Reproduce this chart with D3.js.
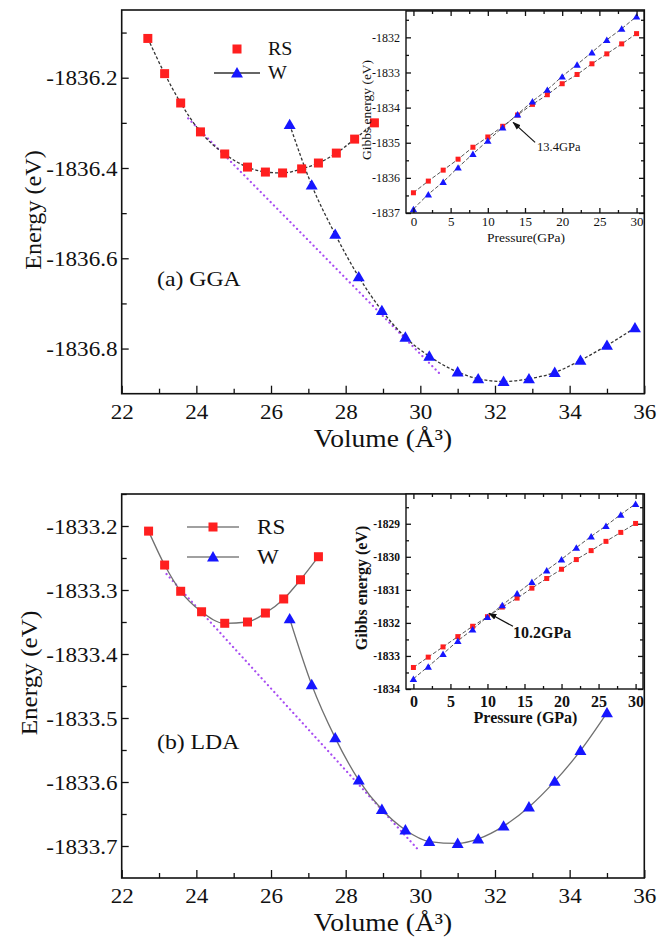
<!DOCTYPE html>
<html>
<head>
<meta charset="utf-8">
<script src="https://cdn.jsdelivr.net/npm/d3@7"></script>
<style>
  html, body { margin: 0; padding: 0; background: #fff; }
  svg { display: block; }
  svg text { font-family: "Liberation Serif", "Times New Roman", serif; }
</style>
</head>
<body>
<svg id="chart" width="667" height="945"></svg>
<script>
// ---------- data ----------
const volumeTicks = [22, 24, 26, 28, 30, 32, 34, 36];
const volumeMinorTicks = [23, 25, 27, 29, 31, 33, 35];

// (a) GGA: total energy vs volume
const ggaRsVolume = [22.70, 23.15, 23.58, 24.11, 24.76, 25.37, 25.85, 26.31, 26.82, 27.27, 27.75, 28.24, 28.77];
const ggaRsEnergy = [-1836.113, -1836.191, -1836.256, -1836.320, -1836.369, -1836.398, -1836.409, -1836.411, -1836.402, -1836.389, -1836.367, -1836.336, -1836.300];
const ggaWVolume = [26.50, 27.09, 27.72, 28.35, 28.97, 29.60, 30.24, 31.00, 31.55, 32.23, 32.91, 33.60, 34.29, 35.00, 35.75];
const ggaWEnergy = [-1836.304, -1836.438, -1836.547, -1836.641, -1836.716, -1836.775, -1836.817, -1836.852, -1836.867, -1836.873, -1836.867, -1836.853, -1836.826, -1836.793, -1836.754];
const ggaTangentVolume = [23.78, 30.50];
const ggaTangentEnergy = [-1836.290, -1836.854];
const ggaEnergyTicks = [-1836.8, -1836.6, -1836.4, -1836.2];
const ggaEnergyMinorTicks = [-1836.7, -1836.5, -1836.3, -1836.1];

// (b) LDA: total energy vs volume
const ldaRsVolume = [22.72, 23.15, 23.58, 24.14, 24.76, 25.37, 25.85, 26.34, 26.79, 27.27];
const ldaRsEnergy = [-1833.208, -1833.261, -1833.302, -1833.334, -1833.352, -1833.350, -1833.336, -1833.314, -1833.284, -1833.248];
const ldaWVolume = [26.50, 27.09, 27.72, 28.35, 28.97, 29.60, 30.24, 31.00, 31.55, 32.23, 32.91, 33.60, 34.29, 35.00];
const ldaWEnergy = [-1833.345, -1833.448, -1833.531, -1833.597, -1833.643, -1833.675, -1833.693, -1833.696, -1833.689, -1833.669, -1833.639, -1833.599, -1833.551, -1833.492];
const ldaTangentVolume = [23.20, 29.93];
const ldaTangentEnergy = [-1833.275, -1833.705];
const ldaEnergyTicks = [-1833.7, -1833.6, -1833.5, -1833.4, -1833.3, -1833.2];
const ldaEnergyMinorTicks = [-1833.65, -1833.55, -1833.45, -1833.35, -1833.25, -1833.15];

// Gibbs energy vs pressure (insets)
const pressure = [0, 2, 4, 6, 8, 10, 12, 14, 16, 18, 20, 22, 24, 26, 28, 30];
const pressureTicks = [0, 5, 10, 15, 20, 25, 30];
const pressureMinorTicks = [2.5, 7.5, 12.5, 17.5, 22.5, 27.5];

const ggaRsGibbs = [-1836.424, -1836.092, -1835.780, -1835.468, -1835.128, -1834.836, -1834.532, -1834.211, -1833.908, -1833.633, -1833.320, -1833.057, -1832.753, -1832.470, -1832.186, -1831.894];
const ggaWGibbs = [-1836.887, -1836.470, -1836.112, -1835.704, -1835.318, -1834.938, -1834.560, -1834.190, -1833.823, -1833.490, -1833.113, -1832.773, -1832.424, -1832.072, -1831.752, -1831.403];
const ggaGibbsTicks = [-1837, -1836, -1835, -1834, -1833, -1832];
const ggaGibbsMinorTicks = [-1836.5, -1835.5, -1834.5, -1833.5, -1832.5, -1831.5];
const ggaTransition = { pressure: 13.4, gibbs: -1834.42, label: "13.4GPa" };

const ldaRsGibbs = [-1833.349, -1833.036, -1832.726, -1832.415, -1832.102, -1831.813, -1831.521, -1831.250, -1830.949, -1830.657, -1830.377, -1830.084, -1829.813, -1829.533, -1829.262, -1828.991];
const ldaWGibbs = [-1833.690, -1833.319, -1832.937, -1832.545, -1832.193, -1831.820, -1831.461, -1831.108, -1830.759, -1830.407, -1830.075, -1829.723, -1829.383, -1829.060, -1828.720, -1828.398];
const ldaGibbsTicks = [-1834, -1833, -1832, -1831, -1830, -1829];
const ldaGibbsMinorTicks = [-1833.5, -1832.5, -1831.5, -1830.5, -1829.5, -1828.5];
const ldaTransition = { pressure: 10.2, gibbs: -1831.71, label: "10.2GPa" };

// ---------- drawing ----------
const RED = "#ff1f1f", BLUE = "#1616ff", INK = "#111", TANGENT = "#a84cf2";
const svg = d3.select("#chart");

svg.append("defs").append("marker")
  .attr("id", "arrowhead").attr("viewBox", "0 0 10 10")
  .attr("refX", 9).attr("refY", 5)
  .attr("markerWidth", 7).attr("markerHeight", 7)
  .attr("orient", "auto-start-reverse")
  .append("path").attr("d", "M0,1.5 L10,5 L0,8.5 Z").attr("fill", INK);

// text drawn slightly widened, as in the typeset figure
function label(g, x, y, str, size, opts = {}) {
  const rot = opts.rotate ? " rotate(-90)" : "";
  const sx = opts.widen || 1;
  return g.append("text")
    .attr("transform", `translate(${x},${y})${rot} scale(${sx},1)`)
    .attr("text-anchor", opts.anchor || "start")
    .attr("font-size", size).attr("font-weight", opts.weight || "normal")
    .attr("fill", INK).text(str);
}

function squares(g, x, y, xs, ys, size) {
  g.selectAll(null).data(d3.zip(xs, ys)).join("rect")
    .attr("x", d => x(d[0]) - size / 2).attr("y", d => y(d[1]) - size / 2)
    .attr("width", size).attr("height", size).attr("fill", RED);
}
function triangles(g, x, y, xs, ys, area) {
  const sym = d3.symbol(d3.symbolTriangle, area);
  g.selectAll(null).data(d3.zip(xs, ys)).join("path")
    .attr("transform", d => `translate(${x(d[0])},${y(d[1]) + 1})`)
    .attr("d", sym).attr("fill", BLUE);
}
function curve(g, x, y, xs, ys, style) {
  g.append("path").datum(d3.zip(xs, ys))
    .attr("d", d3.line().x(d => x(d[0])).y(d => y(d[1])).curve(d3.curveMonotoneX))
    .attr("fill", "none").attr("stroke", style.color).attr("stroke-width", style.width)
    .attr("stroke-dasharray", style.dash || null)
    .attr("stroke-linecap", style.cap || "butt");
}
function axisGroup(g, axis, tx, ty, font) {
  const a = g.append("g").attr("transform", `translate(${tx},${ty})`).call(axis);
  a.attr("font-family", null).attr("font-size", null);
  a.select(".domain").remove();
  a.selectAll("line").attr("stroke", INK).attr("stroke-width", 1.3);
  a.selectAll("text").attr("fill", INK)
    .attr("font-size", font.size).attr("font-weight", font.weight || "normal");
  if (font.widen) a.selectAll("text").attr("transform", `scale(${font.widen},1)`);
  return a;
}

function drawMain(p) {
  const x = d3.scaleLinear().domain([22, 36]).range([p.left, p.right]);
  const y = d3.scaleLinear().domain(p.yDomain).range([p.bottom, p.top]);
  const g = svg.append("g");

  curve(g, x, y, p.tangentV, p.tangentE, { color: TANGENT, width: 2.2, dash: "0.1,4.6", cap: "round" });
  curve(g, x, y, p.rsV, p.rsE, p.lineStyle);
  curve(g, x, y, p.wV, p.wE, p.lineStyle);
  squares(g, x, y, p.rsV, p.rsE, 9);
  triangles(g, x, y, p.wV, p.wE, 62);

  const tickFont = { size: 22, widen: 1.05 };
  axisGroup(g, d3.axisBottom(x).tickValues(volumeTicks).tickSize(-8).tickPadding(9.5).tickFormat(d3.format("d")), 0, p.bottom, tickFont);
  axisGroup(g, d3.axisBottom(x).tickValues(volumeMinorTicks).tickSize(-5).tickFormat(""), 0, p.bottom, {});
  axisGroup(g, d3.axisLeft(y).tickValues(p.yTicks).tickSize(-7).tickPadding(4).tickFormat(d => d.toFixed(1)), p.left, 0, tickFont);
  axisGroup(g, d3.axisLeft(y).tickValues(p.yMinor).tickSize(-5).tickFormat(""), p.left, 0, {});

  g.append("rect").attr("x", p.left).attr("y", p.top)
    .attr("width", p.right - p.left).attr("height", p.bottom - p.top)
    .attr("fill", "none").attr("stroke", INK).attr("stroke-width", 1.6);

  label(g, (p.left + p.right) / 2, p.bottom + 53, "Volume (Å³)", 25, { anchor: "middle", widen: 1.1 });
  label(g, p.yTitleX, p.yTitleY, "Energy (eV)", p.yTitleSize, { anchor: "middle", rotate: true, widen: 1.05 });
  label(g, 157, p.panelLabelY, p.panelLabel, 22, { widen: 1.08 });

  // legend
  const L = p.legend;
  const lg = g.append("g").attr("transform", `translate(${L.x},${L.y})`);
  L.entries.forEach((e, i) => {
    const row = lg.append("g").attr("transform", `translate(0,${i * L.gap})`);
    if (e.line) row.append("line").attr("x1", -L.half).attr("x2", L.half)
      .attr("stroke", L.lineColor).attr("stroke-width", 1.3);
    if (e.kind === "rs") row.append("rect").attr("x", -4.5).attr("y", -4.5).attr("width", 9).attr("height", 9).attr("fill", RED);
    else row.append("path").attr("transform", "translate(0,1)").attr("d", d3.symbol(d3.symbolTriangle, 62)).attr("fill", BLUE);
    label(row, L.textDx, L.fontSize * 0.34, e.label, L.fontSize, { widen: 1.05 });
  });
  return g;
}

function drawInset(p) {
  const x = d3.scaleLinear().domain([-1, 31]).range([p.left, p.right]);
  const y = d3.scaleLinear().domain(p.yDomain).range([p.bottom, p.top]);
  const g = svg.append("g");
  g.append("rect").attr("x", p.left).attr("y", p.top)
    .attr("width", p.right - p.left).attr("height", p.bottom - p.top).attr("fill", "#fff");

  const dash = { color: "#555", width: 1, dash: "4,2" };
  curve(g, x, y, pressure, p.rs, dash);
  curve(g, x, y, pressure, p.w, dash);
  squares(g, x, y, pressure, p.rs, 5);
  triangles(g, x, y, pressure, p.w, 24);

  const f = p.font;
  axisGroup(g, d3.axisBottom(x).tickValues(pressureTicks).tickSize(-5).tickPadding(p.xPad).tickFormat(d3.format("d")), 0, p.bottom, { size: f.x, weight: f.weight });
  axisGroup(g, d3.axisBottom(x).tickValues(pressureMinorTicks).tickSize(-3).tickFormat(""), 0, p.bottom, {});
  axisGroup(g, d3.axisTop(x).tickValues(pressureTicks).tickSize(-5).tickFormat(""), 0, p.top, {});
  axisGroup(g, d3.axisTop(x).tickValues(pressureMinorTicks).tickSize(-3).tickFormat(""), 0, p.top, {});
  axisGroup(g, d3.axisLeft(y).tickValues(p.yTicks).tickSize(-5).tickPadding(6).tickFormat(d => d.toFixed(0)), p.left, 0, { size: f.y, weight: f.weight });
  axisGroup(g, d3.axisLeft(y).tickValues(p.yMinor).tickSize(-3).tickFormat(""), p.left, 0, {});
  axisGroup(g, d3.axisRight(y).tickValues(p.yTicks).tickSize(-5).tickFormat(""), p.right, 0, {});
  axisGroup(g, d3.axisRight(y).tickValues(p.yMinor).tickSize(-3).tickFormat(""), p.right, 0, {});

  g.append("rect").attr("x", p.left).attr("y", p.top)
    .attr("width", p.right - p.left).attr("height", p.bottom - p.top)
    .attr("fill", "none").attr("stroke", INK).attr("stroke-width", 1.4);

  label(g, (p.left + p.right) / 2 + 1, p.xTitleY, p.xTitle, f.title, { anchor: "middle", weight: f.weight });
  label(g, p.yTitleX, p.yTitleY, "Gibbs energy (eV)", f.title, { anchor: "middle", weight: f.weight, rotate: true });

  // transition pressure marker
  const t = p.transition, tx = x(t.pressure), ty = y(t.gibbs);
  g.append("line").attr("x1", tx + p.arrow[0]).attr("y1", ty + p.arrow[1])
    .attr("x2", tx).attr("y2", ty).attr("stroke", INK).attr("stroke-width", 1.2)
    .attr("marker-end", "url(#arrowhead)");
  label(g, tx + p.labelOffset[0], ty + p.labelOffset[1], t.label, f.note, { weight: f.weight });
}

// (a) GGA
drawMain({
  left: 121.7, right: 644.3, top: 10, bottom: 393.7,
  yDomain: [-1836.9, -1836.05], yTicks: ggaEnergyTicks, yMinor: ggaEnergyMinorTicks,
  rsV: ggaRsVolume, rsE: ggaRsEnergy, wV: ggaWVolume, wE: ggaWEnergy,
  tangentV: ggaTangentVolume, tangentE: ggaTangentEnergy,
  lineStyle: { color: "#333", width: 1.3, dash: "3,2" },
  yTitleX: 41, yTitleY: 210, yTitleSize: 23,
  panelLabel: "(a) GGA", panelLabelY: 286,
  legend: { x: 237, y: 49, gap: 24, half: 23, textDx: 31, fontSize: 19, lineColor: "#333",
            entries: [{ kind: "rs", label: "RS", line: false }, { kind: "w", label: "W", line: true }] }
});
drawInset({
  left: 406, right: 644, top: 11, bottom: 213,
  yDomain: [-1837, -1831.25], yTicks: ggaGibbsTicks, yMinor: ggaGibbsMinorTicks,
  rs: ggaRsGibbs, w: ggaWGibbs, transition: ggaTransition,
  font: { x: 13, y: 12, title: 13.5, note: 12.5, weight: "normal" }, xPad: 4,
  xTitle: "Pressure(GPa)", xTitleY: 242, yTitleX: 371, yTitleY: 110,
  arrow: [22, 20], labelOffset: [24, 29]
});

// (b) LDA
drawMain({
  left: 121.7, right: 644.3, top: 494, bottom: 878,
  yDomain: [-1833.75, -1833.15], yTicks: ldaEnergyTicks, yMinor: ldaEnergyMinorTicks,
  rsV: ldaRsVolume, rsE: ldaRsEnergy, wV: ldaWVolume, wE: ldaWEnergy,
  tangentV: ldaTangentVolume, tangentE: ldaTangentEnergy,
  lineStyle: { color: "#707070", width: 1.3 },
  yTitleX: 37, yTitleY: 673, yTitleSize: 24,
  panelLabel: "(b) LDA", panelLabelY: 749,
  legend: { x: 213, y: 527, gap: 30, half: 26, textDx: 44, fontSize: 22, lineColor: "#808080",
            entries: [{ kind: "rs", label: "RS", line: true }, { kind: "w", label: "W", line: true }] }
});
drawInset({
  left: 406, right: 643, top: 494, bottom: 689,
  yDomain: [-1834, -1828.1], yTicks: ldaGibbsTicks, yMinor: ldaGibbsMinorTicks,
  rs: ldaRsGibbs, w: ldaWGibbs, transition: ldaTransition,
  font: { x: 16, y: 11.5, title: 16, note: 16, weight: "bold" }, xPad: 6.5,
  xTitle: "Pressure (GPa)", xTitleY: 723, yTitleX: 367, yTitleY: 588,
  arrow: [24, 13], labelOffset: [24, 25]
});
</script>
</body>
</html>
